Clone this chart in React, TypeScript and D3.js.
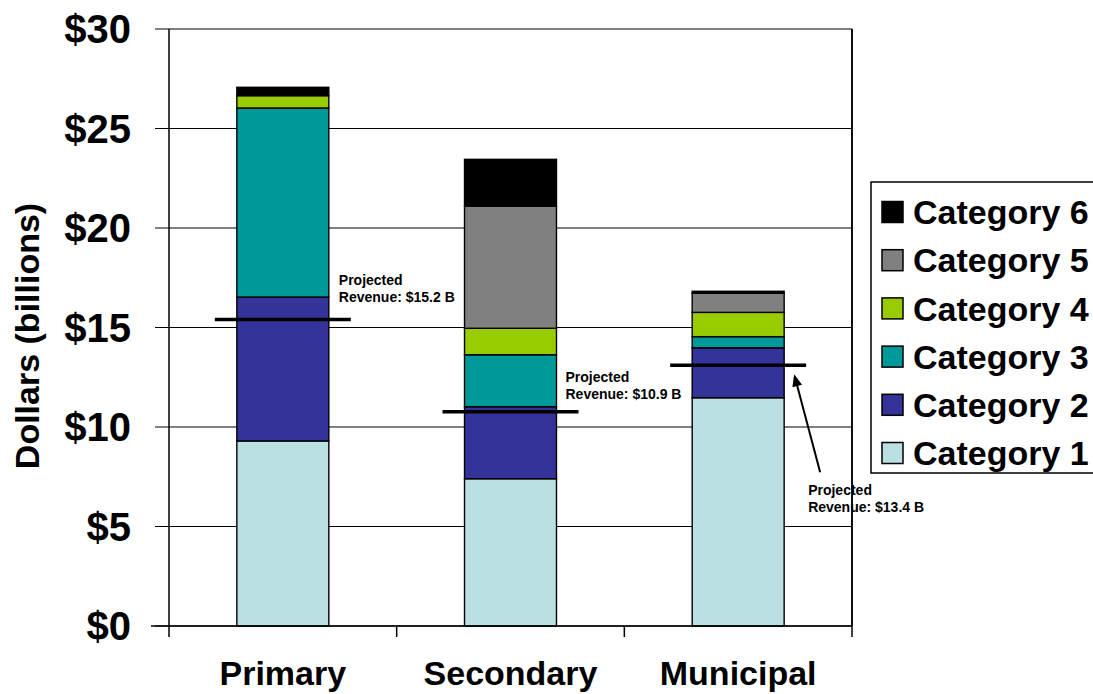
import React from "react";
import * as d3 from "d3";

const categories = ["Primary", "Secondary", "Municipal"];
const seriesNames = ["Category 1", "Category 2", "Category 3", "Category 4", "Category 5", "Category 6"];
const cat1 = [9.3, 7.4, 11.47];
const cat2 = [7.23, 3.62, 2.51];
const cat3 = [9.5, 2.61, 0.56];
const cat4 = [0.62, 1.33, 1.22];
const cat5 = [0.0, 6.14, 0.96];
const cat6 = [0.42, 2.35, 0.1];
const seriesColors = ["#BBE0E3", "#333399", "#009999", "#99CC00", "#808080", "#000000"];
const projectedValues = [15.4, 10.77, 13.1];
const projectedLabels = ["Revenue: $15.2 B", "Revenue: $10.9 B", "Revenue: $13.4 B"];
const yTicks = [0, 5, 10, 15, 20, 25, 30];

const W = 1093;
const H = 694;
const FONT = "'Liberation Sans', Arial, Helvetica, sans-serif";

export default function App() {
  const left = 169, right = 852, top = 29, bottom = 626;
  const x = d3.scaleBand<string>().domain(categories).range([left, right]).paddingInner(0.596).paddingOuter(0.298);
  const y = d3.scaleLinear().domain([0, 30]).range([bottom, top]);
  const seriesData = [cat1, cat2, cat3, cat4, cat5, cat6];
  const rows = categories.map((c, i) => {
    const r: any = { cat: c };
    seriesNames.forEach((s, j) => (r[s] = seriesData[j][i]));
    return r;
  });
  const stacked = d3.stack<any>().keys(seriesNames)(rows);
  const step = x.step();
  const bw = x.bandwidth();
  const ext = 22;

  return (
    <svg width={W} height={H} style={{ position: "absolute", left: 0, top: 0, background: "#fff" }} fontFamily={FONT}>
      <rect x={0} y={0} width={W} height={H} fill="#fff" />
      {/* gridlines */}
      {yTicks.map((t) => (
        <line key={"g" + t} x1={left - 14} x2={right} y1={y(t)} y2={y(t)} stroke="#000" strokeWidth={1.2} />
      ))}
      {/* y tick labels */}
      {yTicks.map((t) => (
        <text key={"t" + t} x={131} y={y(t)} dy="0.36em" textAnchor="end" fontSize={40} fontWeight="bold" fill="#000">
          {"$" + t}
        </text>
      ))}
      {/* bars */}
      {stacked.map((s, j) =>
        s.map((d, i) =>
          d[1] - d[0] > 0 ? (
            <rect
              key={j + "-" + i}
              x={x(categories[i])!}
              y={y(d[1])}
              width={bw}
              height={y(d[0]) - y(d[1])}
              fill={seriesColors[j]}
              stroke="#000"
              strokeWidth={1.4}
            />
          ) : null
        )
      )}
      {/* axes frame */}
      <line x1={left} x2={left} y1={top} y2={bottom} stroke="#000" strokeWidth={1.5} />
      <line x1={right} x2={right} y1={top} y2={bottom} stroke="#000" strokeWidth={1.5} />
      <line x1={left - 18} x2={right} y1={bottom} y2={bottom} stroke="#000" strokeWidth={1.5} />
      {[0, 1, 2, 3].map((k) => (
        <line key={"xt" + k} x1={left + k * step} x2={left + k * step} y1={bottom} y2={bottom + 11} stroke="#000" strokeWidth={1.5} />
      ))}
      {/* x labels */}
      {categories.map((c) => (
        <text key={c} x={x(c)! + bw / 2} y={685} textAnchor="middle" fontSize={34} fontWeight="bold" fill="#000">
          {c}
        </text>
      ))}
      {/* y title */}
      <text transform={`translate(39, 336) rotate(-90)`} textAnchor="middle" fontSize={34} fontWeight="bold" fill="#000">
        Dollars (billions)
      </text>
      {/* projected revenue lines */}
      {categories.map((c, i) => (
        <line
          key={"p" + c}
          x1={x(c)! - ext}
          x2={x(c)! + bw + ext}
          y1={y(projectedValues[i])}
          y2={y(projectedValues[i])}
          stroke="#000"
          strokeWidth={3.5}
        />
      ))}
      {/* annotations */}
      {[0, 1].map((i) => {
        const ax = x(categories[i])! + bw + (i === 0 ? 10 : 9);
        const ay = y(projectedValues[i]) + (i === 0 ? -35 : -30);
        return (
          <text key={"a" + i} fontSize={14} fontWeight="bold" fill="#000">
            <tspan x={ax} y={ay}>Projected</tspan>
            <tspan x={ax} y={ay + 17}>{projectedLabels[i]}</tspan>
          </text>
        );
      })}
      {(() => {
        const i = 2;
        const bx = x(categories[i])! + bw;
        const ly = y(projectedValues[i]);
        const ax = bx + 24;
        const ay = ly + 130;
        const tipX = bx + 10, tipY = ly + 9;
        const tailX = bx + 36, tailY = ly + 107;
        const ang = Math.atan2(tipY - tailY, tipX - tailX);
        const hl = 12, hw = 5;
        const p1 = [tipX - hl * Math.cos(ang) + hw * Math.sin(ang), tipY - hl * Math.sin(ang) - hw * Math.cos(ang)];
        const p2 = [tipX - hl * Math.cos(ang) - hw * Math.sin(ang), tipY - hl * Math.sin(ang) + hw * Math.cos(ang)];
        return (
          <g>
            <line x1={tailX} y1={tailY} x2={tipX - 8 * Math.cos(ang)} y2={tipY - 8 * Math.sin(ang)} stroke="#000" strokeWidth={2} />
            <polygon points={`${tipX},${tipY} ${p1[0]},${p1[1]} ${p2[0]},${p2[1]}`} fill="#000" />
            <text fontSize={14} fontWeight="bold" fill="#000">
              <tspan x={ax} y={ay}>Projected</tspan>
              <tspan x={ax} y={ay + 17}>{projectedLabels[i]}</tspan>
            </text>
          </g>
        );
      })()}
      {/* right border redrawn over annotation */}
      <line x1={right} x2={right} y1={top} y2={bottom} stroke="#000" strokeWidth={1.5} />
      {/* legend */}
      <rect x={871} y={182} width={240} height={291} fill="#fff" stroke="#000" strokeWidth={1.5} />
      {seriesNames
        .map((s, j) => ({ s, j }))
        .reverse()
        .map(({ s, j }, k) => {
          const cy = 212 + k * 48.2;
          return (
            <g key={s}>
              <rect x={882} y={cy - 10.5} width={21} height={21} fill={seriesColors[j]} stroke="#000" strokeWidth={1.5} />
              <text x={913} y={cy} dy="0.36em" fontSize={34} fontWeight="bold" fill="#000">
                {s}
              </text>
            </g>
          );
        })}
    </svg>
  );
}
